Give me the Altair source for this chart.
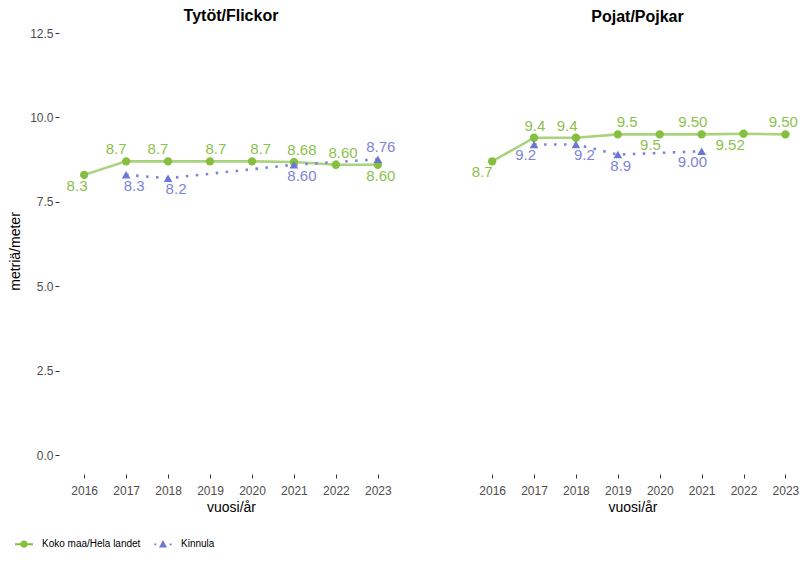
import altair as alt
import pandas as pd

FONT = "Liberation Sans"
KOKO = "Koko maa/Hela landet"
KIN = "Kinnula"

years = [2016, 2017, 2018, 2019, 2020, 2021, 2022, 2023]

# Tytöt / Flickor
girls_all = [8.3, 8.7, 8.7, 8.7, 8.7, 8.68, 8.60, 8.60]
girls_all_lbl = ["8.3", "8.7", "8.7", "8.7", "8.7", "8.68", "8.60", "8.60"]
girls_kin_years = [2017, 2018, 2021, 2023]
girls_kin = [8.3, 8.2, 8.60, 8.76]
girls_kin_lbl = ["8.3", "8.2", "8.60", "8.76"]

# Pojat / Pojkar
boys_all = [8.7, 9.4, 9.4, 9.5, 9.5, 9.50, 9.52, 9.50]
boys_all_lbl = ["8.7", "9.4", "9.4", "9.5", "9.5", "9.50", "9.52", "9.50"]
boys_kin_years = [2017, 2018, 2019, 2021]
boys_kin = [9.2, 9.2, 8.9, 9.00]
boys_kin_lbl = ["9.2", "9.2", "8.9", "9.00"]

# label placement (above/below the point) and horizontal nudge in years
girls_all_pos = ["below", "above", "above", "above", "above", "above", "above", "below"]
girls_all_nudge = [-0.17, -0.24, -0.24, 0.14, 0.21, 0.19, 0.17, 0.07]
girls_kin_pos = ["below", "below", "below", "above"]
girls_kin_nudge = [0.19, 0.19, 0.19, 0.07]
boys_all_pos = ["below", "above", "above", "above", "below", "above", "below", "above"]
boys_all_nudge = [-0.24, 0.02, -0.21, 0.22, -0.22, -0.21, -0.32, -0.05]
boys_kin_pos = ["below", "below", "below", "below"]
boys_kin_nudge = [-0.20, 0.20, 0.07, -0.22]

GREEN = "#84bf3f"
GREEN_LINE = "#a9d47e"
GREEN_TXT = "#8cc14c"
BLUE = "#6c76d3"
BLUE_TXT = "#7c84d8"

# legend keys: line through a marker (custom symbol paths in a [-1, 1] box)
KEY_KOKO = ("M-1,-0.11H1V0.11H-1Z "
            "M0.4,0A0.4,0.4,0,1,1,-0.4,0A0.4,0.4,0,1,1,0.4,0Z")
KEY_KIN = ("M-0.95,-0.1H-0.75V0.1H-0.95Z M0.75,-0.1H0.95V0.1H0.75Z "
           "M0,-0.45L0.45,0.35L-0.45,0.35Z")


def make_df(ys, vals, lbls, pos, nudge, series):
    return pd.DataFrame({
        "year": ys, "value": vals, "label": lbls, "pos": pos,
        "lx": [y + n for y, n in zip(ys, nudge)], "series": series,
    })


def panel(title, all_vals, all_lbl, all_pos, all_nudge,
          kin_years, kin_vals, kin_lbl, kin_pos, kin_nudge,
          width, xmax, show_y, title_dx):
    df = pd.concat([
        make_df(years, all_vals, all_lbl, all_pos, all_nudge, KOKO),
        make_df(kin_years, kin_vals, kin_lbl, kin_pos, kin_nudge, KIN),
    ], ignore_index=True)

    xscale = alt.Scale(domain=[2015.4, xmax], nice=False, zero=False)
    yscale = alt.Scale(domain=[-0.56, 12.65], nice=False, zero=False)
    xaxis = alt.Axis(values=years, format="d", title="vuosi/år", grid=False,
                     domain=False, tickSize=4, tickColor="#333333",
                     labelFontSize=12, labelColor="#4d4d4d", labelPadding=7,
                     titleFontSize=14, titleFontWeight="normal",
                     titleColor="black", titlePadding=4, labelFont=FONT,
                     titleFont=FONT)
    if show_y:
        yaxis = alt.Axis(values=[0, 2.5, 5, 7.5, 10, 12.5], format=".1f",
                         title="metriä/meter", grid=False, domain=False,
                         tickSize=4, tickColor="#333333", labelFontSize=12,
                         labelColor="#4d4d4d", labelPadding=2,
                         titleFontSize=14, titleFontWeight="normal",
                         titleColor="black", titlePadding=7,
                         labelFont=FONT, titleFont=FONT)
    else:
        yaxis = None

    base = alt.Chart(df)
    x = alt.X("year:Q", scale=xscale, axis=xaxis)
    y = alt.Y("value:Q", scale=yscale, axis=yaxis)

    green_line = base.transform_filter(alt.datum.series == KOKO).mark_line(
        color=GREEN_LINE, strokeWidth=2.6).encode(x=x, y=y)
    blue_line = base.transform_filter(alt.datum.series == KIN).mark_line(
        color=BLUE_TXT, strokeWidth=2.6, strokeDash=[2.5, 7.5]).encode(x=x, y=y)
    green_pts = base.transform_filter(alt.datum.series == KOKO).mark_point(
        filled=True, opacity=1, size=70, shape="circle", color=GREEN).encode(x=x, y=y)
    blue_pts = base.transform_filter(alt.datum.series == KIN).mark_point(
        filled=True, opacity=1, size=75, shape="triangle-up", color=BLUE).encode(x=x, y=y)

    # legend-only layer (no rows drawn)
    legend_layer = base.transform_filter("false").mark_point(
        filled=True, opacity=1).encode(
        x=x, y=y,
        color=alt.Color("series:N", scale=alt.Scale(domain=[KOKO, KIN], range=[GREEN, BLUE]),
                        legend=alt.Legend(title=None, orient="none", direction="horizontal",
                                          legendX=-45, legendY=506, labelFontSize=10,
                                          labelFont=FONT, labelColor="black",
                                          symbolSize=324, labelOffset=8,
                                          symbolOpacity=1, columnPadding=10)),
        shape=alt.Shape("series:N", scale=alt.Scale(domain=[KOKO, KIN], range=[KEY_KOKO, KEY_KIN])),
    )

    def texts(series, pos, color, dy):
        return base.transform_filter(
            (alt.datum.series == series) & (alt.datum.pos == pos)
        ).mark_text(fontSize=15, font=FONT, color=color, dy=dy, baseline="middle").encode(
            x=alt.X("lx:Q", scale=xscale), y=alt.Y("value:Q", scale=yscale), text="label:N")

    layers = [green_line, blue_line, green_pts, blue_pts, legend_layer,
              texts(KOKO, "above", GREEN_TXT, -12), texts(KOKO, "below", GREEN_TXT, 11),
              texts(KIN, "above", BLUE_TXT, -12), texts(KIN, "below", BLUE_TXT, 11)]
    return alt.layer(*layers).properties(
        width=width, height=446,
        title=alt.TitleParams(title, fontSize=16, font=FONT, fontWeight="bold",
                              color="black", anchor="middle", offset=3, dx=title_dx))


left = panel("Tytöt/Flickor", girls_all, girls_all_lbl, girls_all_pos, girls_all_nudge,
             girls_kin_years, girls_kin, girls_kin_lbl, girls_kin_pos, girls_kin_nudge,
             344, 2023.6, True, 0)
right = panel("Pojat/Pojkar", boys_all, boys_all_lbl, boys_all_pos, boys_all_nudge,
              boys_kin_years, boys_kin, boys_kin_lbl, boys_kin_pos, boys_kin_nudge,
              331, 2023.3, False, 5)

chart = alt.hconcat(left, right, spacing=64).properties(padding=0).configure(
    font=FONT).configure_view(stroke=None)

chart.save("out.html", embed_options={"renderer": "svg", "actions": False})
